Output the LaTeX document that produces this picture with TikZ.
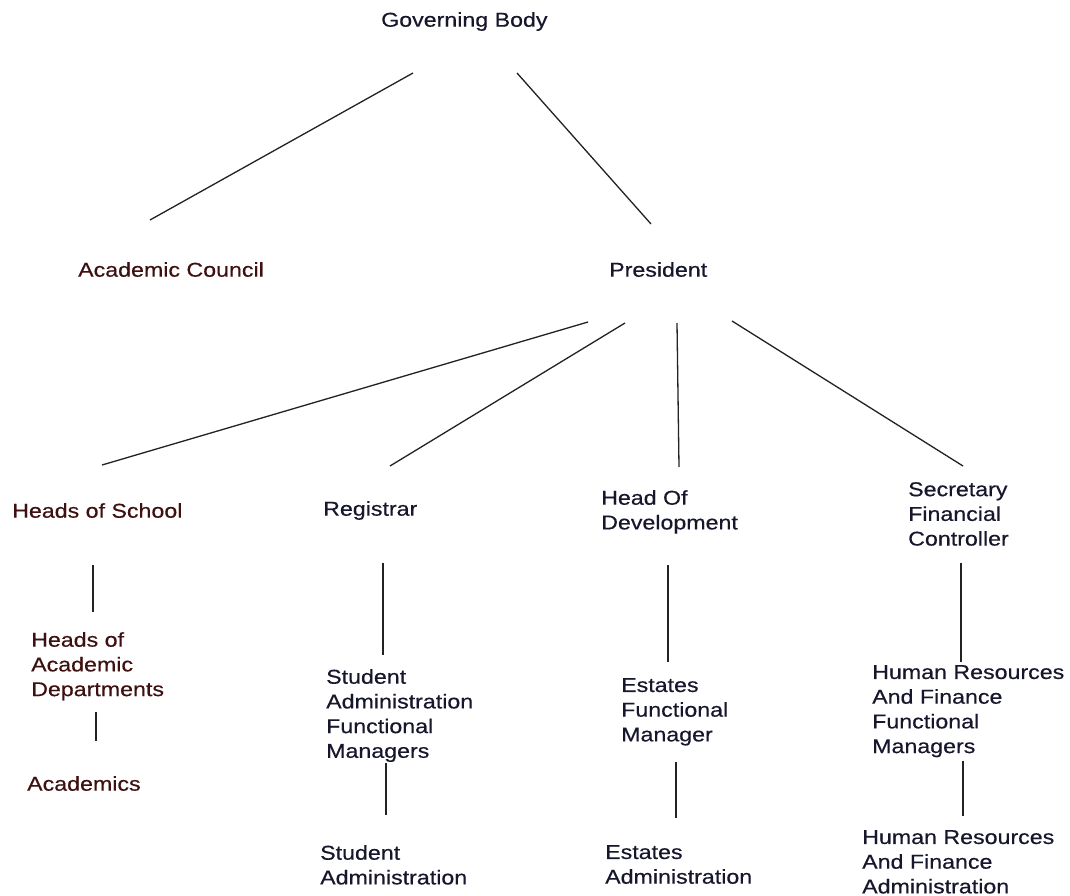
\documentclass[tikz,border=0pt]{standalone}
\usepackage{fontspec}
\setmainfont{Liberation Sans}[FakeStretch=1.16,FakeBold=0.4]
\definecolor{maroon}{RGB}{62,16,16}
\definecolor{navy}{RGB}{22,22,44}
\definecolor{linec}{RGB}{34,34,34}
\begin{document}
\begin{tikzpicture}[x=1pt,y=-1pt,
  lbl/.style={anchor=north west,inner sep=0pt,align=left,font=\fontsize{20}{24.7}\selectfont},
  acad/.style={lbl,text=maroon},
  adm/.style={lbl,text=navy},
  conn/.style={draw=linec,line width=1.3pt}]
\useasboundingbox[fill=white] (0,0) rectangle (1070,896);
% nodes
\node[adm]  (gb)   at (381,12)  {Governing Body};
\node[acad] (ac)   at (78,262)  {Academic Council};
\node[adm]  (pres) at (609,262) {President};
\node[acad] (hos)  at (12,503)  {Heads of School};
\node[adm]  (reg)  at (323,501) {Registrar};
\node[adm]  (hod)  at (601,490) {Head Of\\Development};
\node[adm]  (sfc)  at (908,482) {Secretary\\Financial\\Controller};
\node[acad] (had)  at (31,632)  {Heads of\\Academic\\Departments};
\node[acad] (acs)  at (27,776)  {Academics};
\node[adm]  (safm) at (326,669) {Student\\Administration\\Functional\\Managers};
\node[adm]  (efm)  at (621,678) {Estates\\Functional\\Manager};
\node[adm]  (hrfm) at (872,665) {Human Resources\\And Finance\\Functional\\Managers};
\node[adm]  (sa)   at (320,845) {Student\\Administration};
\node[adm]  (ea)   at (605,845) {Estates\\Administration};
\node[adm]  (hra)  at (862,830) {Human Resources\\And Finance\\Administration};
% connector end points
\coordinate (gb-l) at (413,73);   \coordinate (ac-t) at (150,220);
\coordinate (gb-r) at (517,73);   \coordinate (pres-t) at (651,224);
\coordinate (p1) at (588,322);    \coordinate (hos-t) at (102,465);
\coordinate (p2) at (625,323);    \coordinate (reg-t) at (390,466);
\coordinate (p3) at (677,323);    \coordinate (hod-t) at (679,467);
\coordinate (p4) at (732,321);    \coordinate (sfc-t) at (963,466);
\coordinate (hos-b) at (93,565);  \coordinate (had-t) at (93,612);
\coordinate (had-b) at (96,712);  \coordinate (acs-t) at (96,741);
\coordinate (reg-b) at (383,563); \coordinate (safm-t) at (383,655);
\coordinate (safm-b) at (386,763);\coordinate (sa-t) at (386,815);
\coordinate (hod-b) at (668,565); \coordinate (efm-t) at (668,662);
\coordinate (efm-b) at (676,762); \coordinate (ea-t) at (676,818);
\coordinate (sfc-b) at (961,563); \coordinate (hrfm-t) at (961,662);
\coordinate (hrfm-b) at (963,761);\coordinate (hra-t) at (963,816);
% connectors
\draw[conn] (gb-l) -- (ac-t);
\draw[conn] (gb-r) -- (pres-t);
\draw[conn] (p1) -- (hos-t);
\draw[conn] (p2) -- (reg-t);
\draw[conn] (p3) -- (hod-t);
\draw[conn] (p4) -- (sfc-t);
\draw[conn] (hos-b) -- (had-t);
\draw[conn] (had-b) -- (acs-t);
\draw[conn] (reg-b) -- (safm-t);
\draw[conn] (safm-b) -- (sa-t);
\draw[conn] (hod-b) -- (efm-t);
\draw[conn] (efm-b) -- (ea-t);
\draw[conn] (sfc-b) -- (hrfm-t);
\draw[conn] (hrfm-b) -- (hra-t);
\end{tikzpicture}
\end{document}
